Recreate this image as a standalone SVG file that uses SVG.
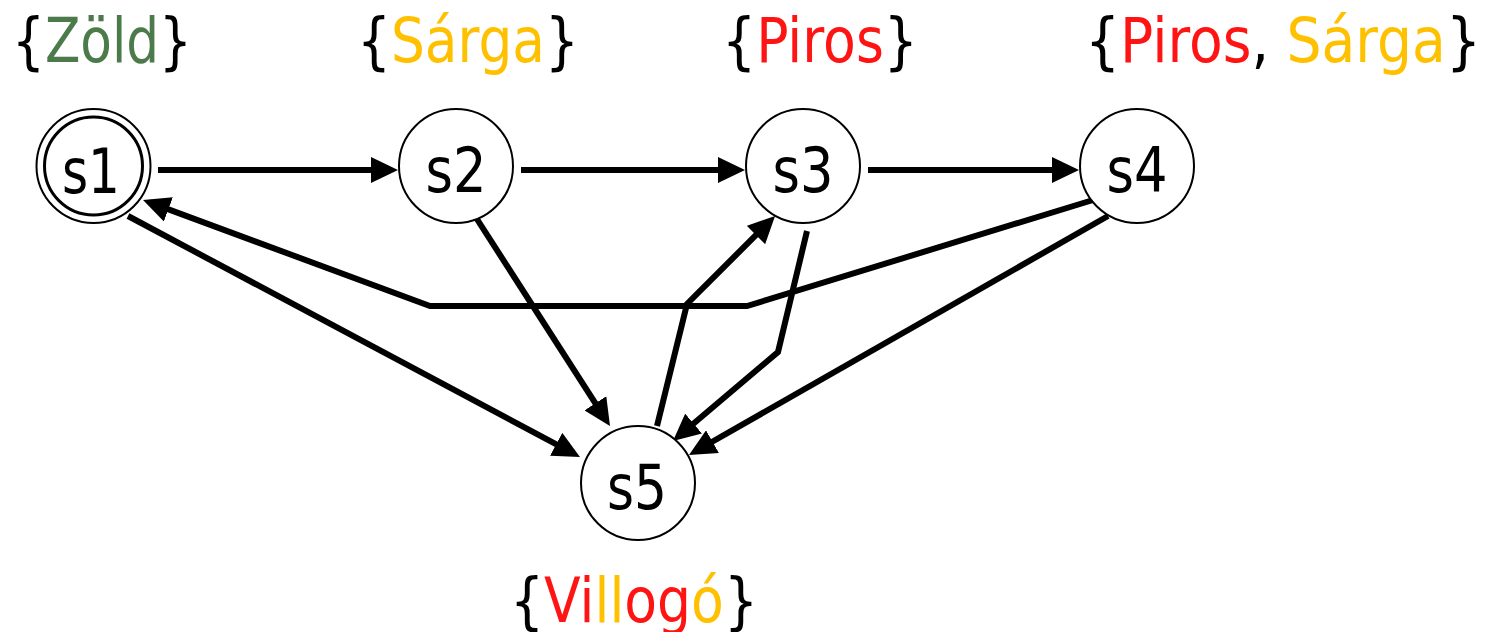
<svg xmlns="http://www.w3.org/2000/svg" width="1493" height="632" viewBox="0 0 1493 632">
<style>
text{font-family:"DejaVu Sans",Verdana,sans-serif;}
.lbl{font-size:62px;text-anchor:middle;fill:#000;}
.nt{font-size:63px;text-anchor:middle;fill:#000;}
.node{fill:#fff;stroke:#000;stroke-width:2;}
.inner{fill:none;stroke:#000;stroke-width:3;}
.e{fill:none;stroke:#000;stroke-width:6;stroke-linejoin:miter;marker-end:url(#ah);}
.g{fill:#4C7A4A;}.y{fill:#FFC000;}.r{fill:#FF1414;}
</style>
<defs>
<marker id="ah" viewBox="0 0 27 26" refX="20" refY="13" markerWidth="27" markerHeight="26" markerUnits="userSpaceOnUse" orient="auto">
<path d="M0,0 L27,13 L0,26 Z" fill="#000"/>
</marker>
</defs>
<g id="labels">
<text class="lbl" x="102" y="62" textLength="180" lengthAdjust="spacingAndGlyphs">{<tspan class="g">Zöld</tspan>}</text>
<text class="lbl" x="468" y="62" textLength="222" lengthAdjust="spacingAndGlyphs">{<tspan class="y">Sárga</tspan>}</text>
<text class="lbl" x="820" y="62" textLength="196" lengthAdjust="spacingAndGlyphs">{<tspan class="r">Piros</tspan>}</text>
<text class="lbl" x="1283" y="62" textLength="396" lengthAdjust="spacingAndGlyphs">{<tspan class="r">Piros</tspan>, <tspan class="y">Sárga</tspan>}</text>
<text class="lbl" x="634" y="622" textLength="248" lengthAdjust="spacingAndGlyphs">{<tspan class="r">Vi</tspan><tspan class="y">ll</tspan><tspan class="r">og</tspan><tspan class="y">ó</tspan>}</text>
</g>
<g id="connectors">
<path class="e" d="M158,170 L391,170"/>
<path class="e" d="M521,170 L738,170"/>
<path class="e" d="M868,170 L1072,170"/>
<path class="e" d="M1093,200 L747,306 L430,306 L149.6,202.4"/>
<path class="e" d="M128,216 L573.8,453.7"/>
<path class="e" d="M475,216 L606.2,420.1"/>
<path class="e" d="M657,426 L687,304 L770.1,220.9"/>
<path class="e" d="M807,231 L778,352 L678.3,436.5"/>
<path class="e" d="M1108,216 L695.1,451.5"/>
</g>
<g id="s1">
<circle class="node" cx="93.5" cy="166" r="57"/>
<circle class="inner" cx="93.5" cy="166" r="49"/>
<text class="nt" x="91" y="193" textLength="58" lengthAdjust="spacingAndGlyphs">s1</text>
</g>
<g id="s2">
<circle class="node" cx="456" cy="166" r="57"/>
<text class="nt" x="456" y="192" textLength="61" lengthAdjust="spacingAndGlyphs">s2</text>
</g>
<g id="s3">
<circle class="node" cx="803" cy="166" r="57"/>
<text class="nt" x="803" y="192" textLength="61" lengthAdjust="spacingAndGlyphs">s3</text>
</g>
<g id="s4">
<circle class="node" cx="1137" cy="166" r="57"/>
<text class="nt" x="1137" y="192" textLength="61" lengthAdjust="spacingAndGlyphs">s4</text>
</g>
<g id="s5">
<circle class="node" cx="638" cy="483" r="57"/>
<text class="nt" x="637" y="509" textLength="60" lengthAdjust="spacingAndGlyphs">s5</text>
</g>
</svg>
